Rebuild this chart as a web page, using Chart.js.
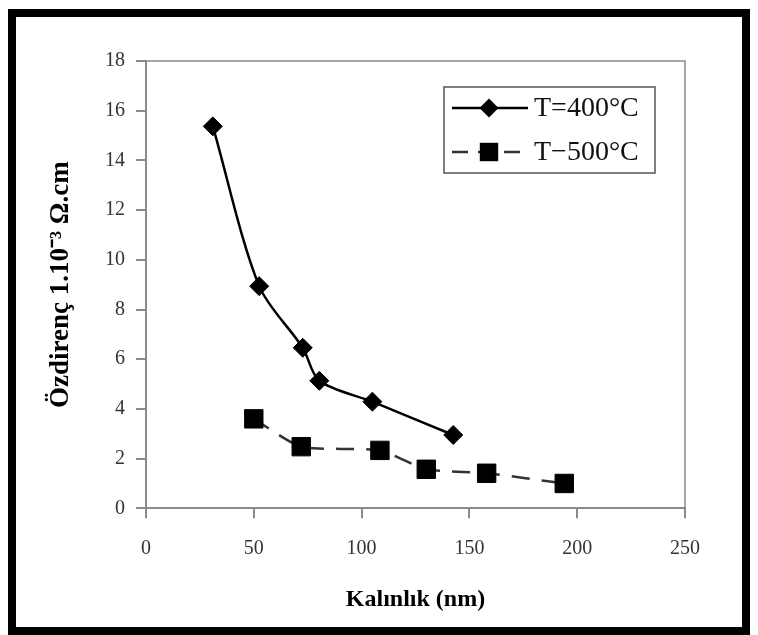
<!DOCTYPE html>
<html>
<head>
<meta charset="utf-8">
<script src="https://cdn.jsdelivr.net/npm/chart.js@4.4.1/dist/chart.umd.min.js"></script>
<style>
  html, body { margin: 0; padding: 0; background: #fff; }
  #wrap { width: 758px; height: 635px; }
</style>
</head>
<body>
<div id="wrap"><canvas id="chart" width="758" height="635"></canvas></div>
<script>
// thickness (nm) and resistivity (1e-3 ohm.cm)
const thick400 = [31, 52.5, 72.7, 80.4, 105, 142.5];
const resist400 = [15.37, 8.94, 6.46, 5.13, 4.29, 2.95];
const thick500 = [50, 72, 108.5, 130, 158, 194];
const resist500 = [3.6, 2.48, 2.33, 1.57, 1.41, 1.0];
const seriesLabels = ['T=400°C', 'T\u2212500°C'];

const serif = "'Liberation Serif', 'Times New Roman', serif";
const axisGrey = '#8a8a8a';

function toPoints(xs, ys) {
    return xs.map((x, i) => ({x: x, y: ys[i]}));
}

/**
 * Frame round the picture, border round the plot area
 */
const pluginFrame = {
    id: 'frame',
    afterDraw: function(chart) {
        const ctx = chart.ctx;
        const area = chart.chartArea;
        ctx.save();
        // top and right side of the plot area
        ctx.strokeStyle = axisGrey;
        ctx.lineWidth = 1.5;
        ctx.beginPath();
        ctx.moveTo(area.left, area.top);
        ctx.lineTo(area.right, area.top);
        ctx.lineTo(area.right, area.bottom);
        ctx.stroke();

        // outer black frame
        ctx.strokeStyle = '#000';
        ctx.lineWidth = 8;
        ctx.strokeRect(12, 13, 734, 618);
        ctx.restore();
    },
};

/**
 * Boxed legend with line + marker samples
 */
const pluginBoxLegend = {
    id: 'boxLegend',
    afterDraw: function(chart, args, opts) {
        const ctx = chart.ctx;
        const x = opts.x;
        const y = opts.y;
        ctx.save();
        ctx.fillStyle = '#fff';
        ctx.fillRect(x, y, opts.width, opts.height);
        ctx.strokeStyle = '#555';
        ctx.lineWidth = 1.5;
        ctx.strokeRect(x, y, opts.width, opts.height);

        chart.data.datasets.forEach((ds, i) => {
            const cy = y + opts.firstRow + i * opts.rowGap;
            const mx = x + 45;
            ctx.strokeStyle = ds.borderColor;
            ctx.lineWidth = ds.borderWidth;
            ctx.setLineDash(ds.borderDash ? [16, 10] : []);
            ctx.beginPath();
            ctx.moveTo(x + 8, cy);
            ctx.lineTo(x + 84, cy);
            ctx.stroke();
            ctx.setLineDash([]);

            ctx.fillStyle = ds.pointBackgroundColor;
            ctx.beginPath();
            if (ds.pointStyle === 'rectRot') {
                const r = ds.pointRadius;
                ctx.moveTo(mx - r, cy);
                ctx.lineTo(mx, cy - r);
                ctx.lineTo(mx + r, cy);
                ctx.lineTo(mx, cy + r);
                ctx.closePath();
            } else {
                const s = ds.pointRadius * Math.SQRT1_2;
                ctx.rect(mx - s, cy - s, 2 * s, 2 * s);
            }
            ctx.fill();

            ctx.fillStyle = '#111';
            ctx.font = '28px ' + serif;
            ctx.textBaseline = 'middle';
            ctx.textAlign = 'left';
            ctx.fillText(ds.label, x + 90, cy + 1);
        });
        ctx.restore();
    },
};

const ctx = document.getElementById('chart').getContext('2d');
new Chart(ctx, {
    type: 'scatter',
    data: {
        datasets: [
            {
                label: seriesLabels[0],
                data: toPoints(thick400, resist400),
                showLine: true,
                borderColor: '#000',
                borderWidth: 2.5,
                tension: 0.3,
                pointStyle: 'rectRot',
                pointRadius: 9.5,
                pointBackgroundColor: '#000',
                pointBorderColor: '#000',
                pointBorderWidth: 1,
            },
            {
                label: seriesLabels[1],
                data: toPoints(thick500, resist500),
                showLine: true,
                borderColor: '#333',
                borderWidth: 2.5,
                borderDash: [18, 12],
                tension: 0.2,
                pointStyle: 'rect',
                pointRadius: 13,
                pointBackgroundColor: '#000',
                pointBorderColor: '#000',
                pointBorderWidth: 1,
            },
        ],
    },
    options: {
        responsive: false,
        animation: false,
        layout: {
            padding: {left: 0, right: 73, top: 61, bottom: 0},
        },
        scales: {
            x: {
                type: 'linear',
                min: 0,
                max: 250,
                ticks: {
                    stepSize: 50,
                    padding: 18,
                    color: '#333',
                    font: {family: serif, size: 20},
                    maxRotation: 0,
                },
                grid: {
                    drawOnChartArea: false,
                    drawTicks: true,
                    tickLength: 10,
                    color: axisGrey,
                    lineWidth: 2,
                },
                border: {display: true, color: axisGrey, width: 2},
                title: {
                    display: true,
                    text: 'Kalınlık (nm)',
                    color: '#000',
                    font: {family: serif, size: 24, weight: 'bold'},
                    padding: {top: 0, bottom: 21},
                },
                afterFit: function(scale) {
                    scale.height = 126.7;
                },
            },
            y: {
                type: 'linear',
                min: 0,
                max: 18,
                ticks: {
                    stepSize: 2,
                    padding: 11,
                    color: '#333',
                    font: {family: serif, size: 20},
                },
                grid: {
                    drawOnChartArea: false,
                    drawTicks: true,
                    tickLength: 10,
                    color: axisGrey,
                    lineWidth: 2,
                },
                border: {display: true, color: axisGrey, width: 2},
                title: {
                    display: true,
                    text: 'Özdirenç 1.10⁻³ Ω.cm',
                    color: '#000',
                    font: {family: serif, size: 27, weight: 'bold'},
                    padding: {top: 45, bottom: 0},
                },
                afterFit: function(scale) {
                    scale.width = 146;
                },
            },
        },
        plugins: {
            legend: {display: false},
            tooltip: {enabled: false},
            boxLegend: {
                x: 444,
                y: 87,
                width: 211,
                height: 86,
                firstRow: 21,
                rowGap: 44,
            },
        },
    },
    plugins: [pluginFrame, pluginBoxLegend],
});
</script>
</body>
</html>
